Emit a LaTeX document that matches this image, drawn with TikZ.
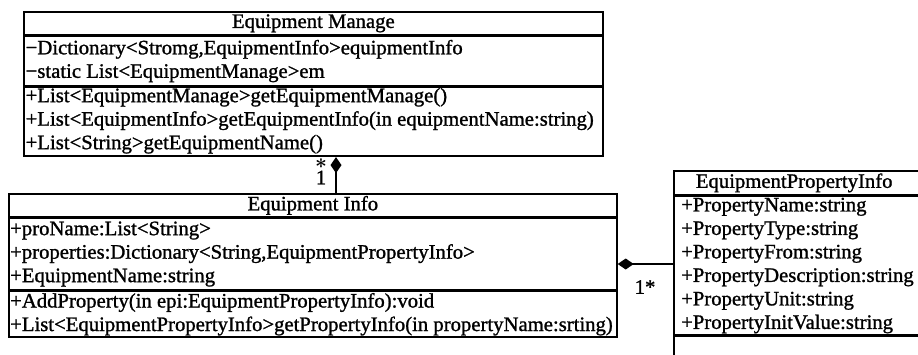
\documentclass[tikz,border=0pt]{standalone}
\usepackage{amsmath}
\usepackage{fontspec}
\setmainfont{Liberation Serif}[FakeStretch=1.01,FakeBold=1.2]
\usetikzlibrary{arrows.meta,calc}
\begin{document}
\begin{tikzpicture}[x=1pt,y=-1pt,
  every node/.style={font=\fontsize{20.5}{23.5}\selectfont, inner sep=0pt},
  comp/.style={draw, line width=1.7pt, anchor=north west, inner sep=0pt},
  txt/.style={anchor=west, align=left},
  link/.style={line width=1.7pt, -{Diamond[length=16pt,width=11pt]}},
  mult/.style={font=\fontsize{20.5}{23.5}\selectfont}]
\useasboundingbox (0,0) rectangle (918,354);
\clip (0,0) rectangle (918,354);
% Equipment Manage
\node[comp, minimum width=579pt, minimum height=23pt] (emH) at (23,11) {Equipment Manage};
\node[comp, minimum width=579pt, minimum height=49pt] (emA) at (emH.south west) {};
\node[comp, minimum width=579pt, minimum height=69pt] (emO) at (emA.south west) {};
\node[txt] (emAt) at ($(emA.west)+(2.5,0)$) {−Dictionary<Stromg,EquipmentInfo>equipmentInfo\\−static List<EquipmentManage>em};
\node[txt] (emOt) at ($(emO.west)+(2.5,-1)$) {+List<EquipmentManage>getEquipmentManage()\\+List<EquipmentInfo>getEquipmentInfo(in equipmentName:string)\\+List<String>getEquipmentName()};
% Equipment Info
\node[comp, minimum width=608pt, minimum height=23pt] (eiH) at (8,193) {Equipment Info};
\node[comp, minimum width=608pt, minimum height=71pt] (eiA) at (eiH.south west) {};
\node[comp, minimum width=608pt, minimum height=46pt] (eiO) at (eiA.south west) {};
\node[txt] (eiAt) at ($(eiA.west)+(2,0)$) {+proName:List<String>\\+properties:Dictionary<String,EquipmentPropertyInfo>\\+EquipmentName:string};
\node[txt] (eiOt) at ($(eiO.west)+(2,0)$) {+AddProperty(in epi:EquipmentPropertyInfo):void\\+List<EquipmentPropertyInfo>getPropertyInfo(in propertyName:srting)};
% EquipmentPropertyInfo
\node[comp, minimum width=270pt, minimum height=24pt, text width=244pt, align=left] (epH) at (673,170) {\hspace*{9pt}EquipmentPropertyInfo};
\node[comp, minimum width=270pt, minimum height=138pt] (epA) at (epH.south west) {};
\node[comp, minimum width=270pt, minimum height=40pt] (epO) at (epA.south west) {};
\node[txt] (epAt) at ($(epA.west)+(8,0)$) {+PropertyName:string\\+PropertyType:string\\+PropertyFrom:string\\+PropertyDescription:string\\+PropertyUnit:string\\+PropertyInitValue:string};
% connectors
\draw[link] ($(eiH.north west)+(328,0)$) -- ($(emO.south west)+(313,0)$);
\coordinate (c2) at (0,264);
\draw[link] (c2 -| epA.west) -- (c2 -| eiA.east);
\node[mult, font=\fontsize{22}{22}\selectfont] (m1) at (321,164) {$\boldsymbol{\ast}$};
\node[mult] (m2) at (321,177.5) {1};
\node[mult] (m3) at (645,287) {1*};
\end{tikzpicture}
\end{document}
